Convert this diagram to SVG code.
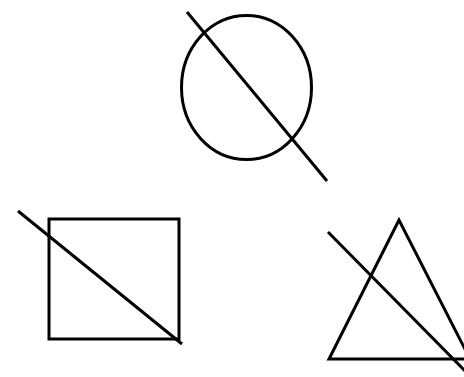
<svg xmlns="http://www.w3.org/2000/svg" width="464" height="377" viewBox="0 0 464 377">
<style>.s{fill:none;stroke:#000;stroke-width:3;}</style>
<rect width="464" height="377" fill="#fff"/>
<g id="circle-node"><ellipse class="s" cx="246.5" cy="87.5" rx="65" ry="72"/></g>
<g id="square-node"><rect class="s" x="49" y="219" width="130" height="120"/></g>
<g id="triangle-node"><polygon class="s" points="399,220 329,359 470,359"/></g>
<g id="connectors">
<line class="s" x1="187" y1="12" x2="327" y2="181"/>
<line class="s" x1="18" y1="211" x2="182" y2="344"/>
<line class="s" x1="328" y1="232" x2="466" y2="372"/>
</g>
</svg>
